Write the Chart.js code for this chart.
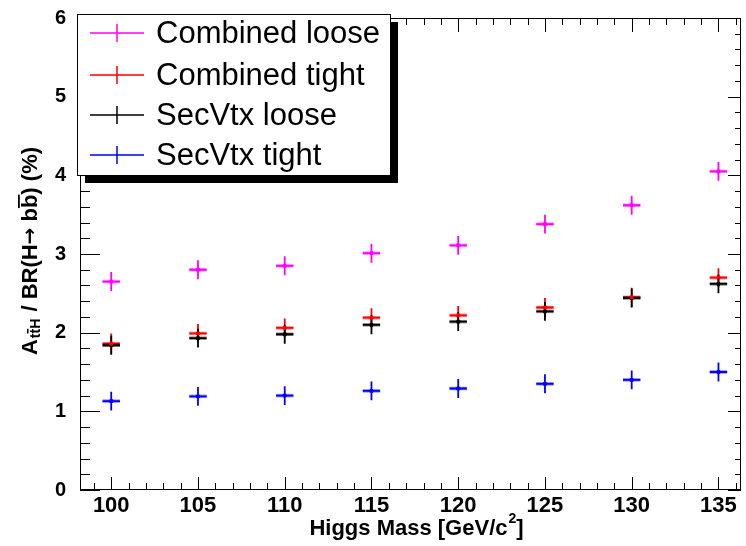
<!DOCTYPE html>
<html>
<head>
<meta charset="utf-8">
<script src="https://cdn.jsdelivr.net/npm/chart.js@4.4.0/dist/chart.umd.min.js"></script>
<style>
  html, body { margin: 0; padding: 0; background: #fff; overflow: hidden; }
  canvas { display: block; }
</style>
</head>
<body>
<canvas id="plot" width="746" height="546"></canvas>
<script>
// Higgs mass points (GeV/c^2)
var masses = [100, 105, 110, 115, 120, 125, 130, 135];
var xTickValues = [100, 105, 110, 115, 120, 125, 130, 135];

// acceptance / BR values in %
var combinedLoose = [2.65, 2.80, 2.85, 3.01, 3.11, 3.38, 3.62, 4.05];
var combinedTight = [1.86, 1.99, 2.06, 2.19, 2.22, 2.32, 2.45, 2.70];
var secVtxLoose   = [1.84, 1.93, 1.98, 2.10, 2.14, 2.27, 2.44, 2.62];
var secVtxTight   = [1.13, 1.19, 1.20, 1.26, 1.29, 1.35, 1.40, 1.50];

// vertical errors
var errCombinedLoose = [0.12, 0.12, 0.12, 0.12, 0.12, 0.12, 0.12, 0.12];
var errCombinedTight = [0.13, 0.12, 0.12, 0.12, 0.12, 0.12, 0.12, 0.12];
var errSecVtxLoose   = [0.12, 0.12, 0.12, 0.12, 0.12, 0.12, 0.12, 0.12];
var errSecVtxTight   = [0.12, 0.12, 0.12, 0.12, 0.12, 0.12, 0.12, 0.12];
var xErr = 0.5;

var labels = ["Combined loose", "Combined tight", "SecVtx loose", "SecVtx tight"];
var colors = ["#ff00ff", "#ff0000", "#000000", "#0000ff"];

function pts(ys) {
  return masses.map(function(m, i) { return { x: m, y: ys[i] }; });
}

var values = [combinedLoose, combinedTight, secVtxLoose, secVtxTight];
var errors = [errCombinedLoose, errCombinedTight, errSecVtxLoose, errSecVtxTight];

var datasets = values.map(function(v, k) {
  return {
    label: labels[k],
    data: pts(v),
    yErr: errors[k],
    borderColor: colors[k],
    backgroundColor: colors[k],
    pointStyle: 'rect',
    pointRadius: 2,
    pointBorderWidth: 1,
    showLine: false
  };
});

var FONT = "'Liberation Sans', Arial, Helvetica, sans-serif";

// error bars, drawn through the scales
var errorBars = {
  id: 'errorBars',
  beforeDatasetsDraw: function(chart) {
    var c = chart.ctx, xs = chart.scales.x, ys = chart.scales.y;
    c.save();
    chart.data.datasets.forEach(function(ds) {
      ds.data.forEach(function(p, i) {
        var e = ds.yErr[i];
        var px = xs.getPixelForValue(p.x), py = ys.getPixelForValue(p.y);
        // faint wide bar under the sharp one
        c.globalAlpha = 0.45;
        c.strokeStyle = ds.borderColor;
        c.lineWidth = 3.5;
        c.beginPath();
        c.moveTo(xs.getPixelForValue(p.x - xErr), py);
        c.lineTo(xs.getPixelForValue(p.x + xErr), py);
        c.stroke();
        c.globalAlpha = 1;
        c.lineWidth = 1.8;
        c.beginPath();
        c.moveTo(xs.getPixelForValue(p.x - xErr), py);
        c.lineTo(xs.getPixelForValue(p.x + xErr), py);
        c.moveTo(px, ys.getPixelForValue(p.y - e));
        c.lineTo(px, ys.getPixelForValue(p.y + e));
        c.stroke();
      });
    });
    c.restore();
  }
};

// ROOT style frame, inward ticks, titles and legend box
var rootFrame = {
  id: 'rootFrame',
  afterDraw: function(chart) {
    var c = chart.ctx, a = chart.chartArea;
    var xs = chart.scales.x, ys = chart.scales.y;
    c.save();
    c.strokeStyle = '#000';
    c.lineWidth = 1;
    c.strokeRect(a.left + 0.5, a.top + 0.5, a.right - a.left - 1, a.bottom - a.top - 1);

    c.beginPath();
    // x ticks, bottom and top
    for (var v = 99; v <= 136; v++) {
      var px = Math.round(xs.getPixelForValue(v)) + 0.5;
      var major = v % 5 === 0;
      c.moveTo(px, a.bottom); c.lineTo(px, a.bottom - (major ? 13 : 7));
      c.moveTo(px, a.top); c.lineTo(px, a.top + (major ? 14 : 7));
    }
    // y ticks, left and right
    for (var k = 0; k <= 30; k++) {
      var yv = k * 0.2;
      var py = Math.round(ys.getPixelForValue(yv)) + 0.5;
      var maj = k % 5 === 0;
      c.moveTo(a.left, py); c.lineTo(a.left + (maj ? 20 : 10), py);
      c.moveTo(a.right, py); c.lineTo(a.right - (maj ? 13 : 6), py);
    }
    c.stroke();

    // x title
    c.fillStyle = '#000';
    c.textBaseline = 'alphabetic';
    c.font = 'bold 22px ' + FONT;
    var t1 = 'Higgs Mass [GeV/c';
    var w1 = c.measureText(t1).width;
    c.font = 'bold 14px ' + FONT;
    var w2 = c.measureText('2').width;
    c.font = 'bold 22px ' + FONT;
    var w3 = c.measureText(']').width;
    var x0 = 416 - (w1 + w2 + w3) / 2, base = 535;
    c.fillText(t1, x0, base);
    c.font = 'bold 14px ' + FONT;
    c.fillText('2', x0 + w1 + 1, base - 12);
    c.font = 'bold 22px ' + FONT;
    c.fillText(']', x0 + w1 + w2 + 1, base);

    // y title (rotated)
    c.save();
    c.translate(37, 251);
    c.rotate(-Math.PI / 2);
    var big = 'bold 22px ' + FONT, small = 'bold 14px ' + FONT;
    var arrowFont = 'bold 20px "DejaVu Sans", sans-serif';
    c.font = big;
    var wA = c.measureText('A').width;
    c.font = small;
    var wt = c.measureText('t').width, wSub = c.measureText('ttH').width;
    c.font = big;
    var pre = ' / BR(H', wPre = c.measureText(pre).width;
    c.font = arrowFont;
    var wArr = c.measureText('\u2192').width;
    c.font = big;
    var post = ' b', wPost = c.measureText(post).width;
    var wb = c.measureText('b').width;
    var tail = ') (%)', wTail = c.measureText(tail).width;
    var total = wA + wSub + 2 + wPre + wArr + wPost + wb + wTail;
    var sx = -total / 2;
    c.fillText('A', sx, 0);
    c.font = small;
    c.fillText('ttH', sx + wA + 1, 3);
    c.fillRect(sx + wA + 1 + wt, 3 - 13, wt, 1.5);
    c.font = big;
    var mx = sx + wA + wSub + 2;
    c.fillText(pre, mx, 0);
    mx += wPre;
    c.font = arrowFont;
    c.fillText('\u2192', mx, -1);
    mx += wArr;
    c.font = big;
    c.fillText(post, mx, 0);
    mx += wPost;
    c.fillText('b', mx, 0);
    c.fillRect(mx, -19, wb, 1.8);
    c.fillText(tail, mx + wb, 0);
    c.restore();

    // legend with shadow
    var L = 77, T = 14, W = 313, H = 161;
    c.fillStyle = '#000';
    c.fillRect(L + 8, T + 8, W, H);
    c.fillStyle = '#fff';
    c.fillRect(L, T, W, H);
    c.strokeStyle = '#000';
    c.lineWidth = 1;
    c.strokeRect(L + 0.5, T + 0.5, W, H);
    var rows = [33, 75, 115, 155];
    c.font = '31px ' + FONT;
    c.textBaseline = 'middle';
    chart.data.datasets.forEach(function(ds, i) {
      var ry = rows[i];
      c.strokeStyle = ds.borderColor;
      c.lineWidth = 1.5;
      c.beginPath();
      c.moveTo(90, ry); c.lineTo(144, ry);
      c.moveTo(117, ry - 9); c.lineTo(117, ry + 9);
      c.stroke();
      c.fillStyle = '#000';
      c.fillText(ds.label, 156, ry + 1);
    });
    c.restore();
  }
};

var ctx = document.getElementById('plot');
var myChart = new Chart(ctx, {
  type: 'scatter',
  data: { datasets: datasets },
  options: {
    responsive: false,
    animation: false,
    maintainAspectRatio: false,
    layout: { padding: { left: 0, top: 15, right: 1, bottom: 0 } },
    plugins: {
      legend: { display: false },
      tooltip: { enabled: false }
    },
    scales: {
      x: {
        type: 'linear',
        min: 98.2,
        max: 136.3,
        grid: { display: false },
        border: { display: false },
        afterBuildTicks: function(scale) {
          scale.ticks = xTickValues.map(function(v) { return { value: v }; });
        },
        afterFit: function(scale) { scale.height = 56; },
        ticks: {
          color: '#000',
          padding: -5,
          maxRotation: 0,
          autoSkip: false,
          font: { family: FONT, size: 22, weight: 'bold' }
        }
      },
      y: {
        min: 0,
        max: 6,
        grid: { display: false },
        border: { display: false },
        afterFit: function(scale) { scale.width = 80; },
        ticks: {
          stepSize: 1,
          color: '#000',
          padding: 6,
          font: { family: FONT, size: 20, weight: 'bold' }
        }
      }
    }
  },
  plugins: [errorBars, rootFrame]
});
</script>
</body>
</html>
